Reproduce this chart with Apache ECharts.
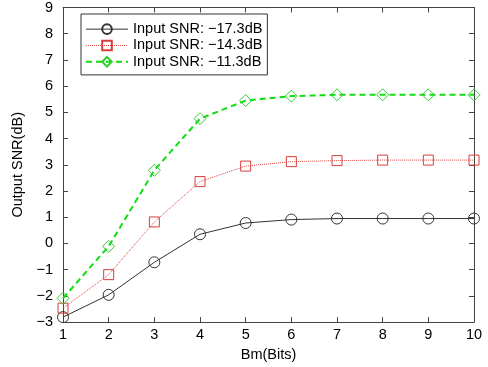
<!DOCTYPE html>
<html><head><meta charset="utf-8">
<script src="https://cdn.jsdelivr.net/npm/echarts@6/dist/echarts.min.js"></script>
<style>html,body{margin:0;padding:0;background:#fff}#c{width:488px;height:367px}</style>
</head><body><div id="c"></div>
<script>
const bits = [1,2,3,4,5,6,7,8,9,10];
const snrM173 = [-2.81,-1.96,-0.72,0.35,0.78,0.91,0.95,0.95,0.95,0.95];
const snrM143 = [-2.47,-1.19,0.82,2.36,2.95,3.12,3.16,3.18,3.18,3.18];
const snrM113 = [-2.09,-0.11,2.79,4.76,5.45,5.62,5.67,5.67,5.67,5.67];
const names = ['Input SNR: \u221217.3dB','Input SNR: \u221214.3dB','Input SNR: \u221211.3dB'];
const xTitle = 'Bm(Bits)';
const yTitle = 'Output SNR(dB)';

const font = 'Liberation Sans, Arial, Helvetica, sans-serif';
const fs = 14.5;
const pair = a => a.map((v,i)=>[bits[i],v]);
const minus = v => String(v).replace('-', '\u2212');
const chart = echarts.init(document.getElementById('c'), null, {renderer:'canvas'});
const axisCommon = () => ({
  axisLine:{show:true,onZero:false,lineStyle:{color:'#444',width:1}},
  axisTick:{show:true,inside:true,length:5,lineStyle:{color:'#444'}},
  splitLine:{show:false}
});
const hollow = c => ({color:'rgba(255,255,255,0)',borderColor:c,borderWidth:1});
chart.setOption({
  animation:false,
  backgroundColor:'#fff',
  grid:{left:63,right:14,top:6,bottom:41,containLabel:false},
  legend:{
    left:81, top:14, orient:'vertical',
    itemWidth:42, itemHeight:12, itemGap:0,
    padding:[7,5,5,4],
    borderColor:'#333', borderWidth:1, backgroundColor:'#fff',
    textStyle:{fontFamily:font,fontSize:fs,color:'#000',lineHeight:16.3},
    data:[
      {name:names[0],lineStyle:{width:1}},
      {name:names[1],lineStyle:{width:1}},
      {name:names[2],lineStyle:{width:2}}
    ]
  },
  xAxis:[
    Object.assign(axisCommon(),{type:'value',min:1,max:10,interval:1,position:'bottom',
      name:xTitle,nameLocation:'middle',nameGap:22,
      nameTextStyle:{fontFamily:font,fontSize:fs,color:'#000'},
      axisLabel:{fontFamily:font,fontSize:fs,color:'#000',margin:5,formatter:minus}}),
    Object.assign(axisCommon(),{type:'value',min:1,max:10,interval:1,position:'top',axisLabel:{show:false}})
  ],
  yAxis:[
    Object.assign(axisCommon(),{type:'value',min:-3,max:9,interval:1,position:'left',
      name:yTitle,nameLocation:'middle',nameGap:35,
      nameTextStyle:{fontFamily:font,fontSize:fs,color:'#000'},
      axisLabel:{fontFamily:font,fontSize:fs,color:'#000',margin:10,formatter:minus}}),
    Object.assign(axisCommon(),{type:'value',min:-3,max:9,interval:1,position:'right',axisLabel:{show:false}})
  ],
  series:[
    {name:names[0],type:'line',data:pair(snrM173),symbol:'circle',symbolSize:11,
     lineStyle:{color:'#333',width:1,type:'solid'},itemStyle:hollow('#333')},
    {name:names[1],type:'line',data:pair(snrM143),symbol:'rect',symbolSize:10,
     lineStyle:{color:'#e04545',width:1,type:'dotted'},itemStyle:hollow('#d83c3c')},
    {name:names[2],type:'line',data:pair(snrM113),symbol:'diamond',symbolSize:12,
     lineStyle:{color:'#11dd11',width:2,type:[6,4]},itemStyle:hollow('#33cc33')}
  ]
});
</script></body></html>
